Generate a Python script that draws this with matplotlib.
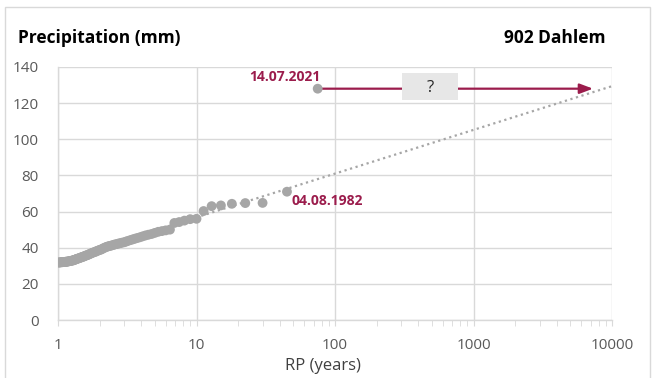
import numpy as np
import matplotlib
matplotlib.use("Agg")
import matplotlib.pyplot as plt
from matplotlib.patches import Rectangle

plt.rcParams['font.family'] = ['Open Sans', 'DejaVu Sans']

# Annual maximum daily precipitation, ranked (return period in years, value in mm)
rp_years = [45.00, 30.00, 22.50, 18.00, 15.00, 12.86, 11.25, 10.00, 9.00, 8.18,
            7.50, 6.92, 6.43, 6.00, 5.63, 5.29, 5.00, 4.74, 4.50, 4.29,
            4.09, 3.91, 3.75, 3.60, 3.46, 3.33, 3.21, 3.10, 3.00, 2.90,
            2.81, 2.73, 2.65, 2.57, 2.50, 2.43, 2.37, 2.31, 2.25, 2.20,
            2.14, 2.09, 2.05, 2.00, 1.96, 1.91, 1.88, 1.84, 1.80, 1.76,
            1.73, 1.70, 1.67, 1.64, 1.61, 1.58, 1.55, 1.53, 1.50, 1.48,
            1.45, 1.43, 1.41, 1.38, 1.36, 1.34, 1.32, 1.30, 1.29, 1.27,
            1.25, 1.23, 1.22, 1.20, 1.18, 1.17, 1.15, 1.14, 1.13, 1.11,
            1.10, 1.08, 1.07, 1.06, 1.05, 1.03, 1.02, 1.01]
precip_mm = [71.0, 64.8, 64.7, 64.3, 63.4, 63.0, 60.3, 56.0, 55.8, 55.0,
             54.2, 53.7, 50.0, 49.6, 49.2, 48.8, 48.2, 47.6, 47.2, 46.8,
             46.3, 45.8, 45.4, 45.0, 44.6, 44.2, 43.8, 43.4, 43.0, 42.8,
             42.5, 42.3, 42.0, 41.8, 41.5, 41.2, 41.0, 40.8, 40.5, 40.2,
             39.8, 39.4, 39.0, 38.8, 38.5, 38.2, 37.9, 37.6, 37.4, 37.1,
             36.8, 36.6, 36.3, 36.0, 35.8, 35.6, 35.3, 35.1, 34.9, 34.7,
             34.5, 34.3, 34.1, 33.9, 33.7, 33.5, 33.3, 33.2, 33.0, 32.9,
             32.8, 32.7, 32.6, 32.5, 32.4, 32.3, 32.3, 32.2, 32.2, 32.1,
             32.1, 32.0, 32.0, 32.0, 31.9, 31.9, 31.8, 31.8]

# 2021 event and the 1982 record
event_2021_rp = 75
event_2021_mm = 128
event_2021_label = "14.07.2021"
arrow_end_rp = 7300
record_1982_rp = 45.0
record_1982_mm = 71.0
record_1982_label = "04.08.1982"

# Logarithmic trend line: P = a + b * log10(RP)
trend_a = 32.6
trend_b = 24.2
trend_rp = [1, 10000]

x_ticks = [1, 10, 100, 1000, 10000]
x_tick_labels = ["1", "10", "100", "1000", "10000"]
y_ticks = [0, 20, 40, 60, 80, 100, 120, 140]

accent = "#9B1C4C"
marker_grey = "#A6A6A6"
grid_grey = "#D9D9D9"
text_grey = "#595959"

W, H = 656, 378
fig = plt.figure(figsize=(W / 100, H / 100), dpi=100)
ax = fig.add_axes([58 / W, 1 - 320 / H, (612 - 58) / W, (320 - 67) / H])

# outer chart frame
fig.patches.append(Rectangle((5 / W, -0.05), (650 - 5) / W, 1 - 7 / H + 0.05,
                             transform=fig.transFigure, fill=False,
                             edgecolor="#D9D9D9", linewidth=1.0, zorder=0))

ax.set_xscale("log")
ax.set_xlim(1, 10000)
ax.set_ylim(0, 140)

tx = np.logspace(np.log10(trend_rp[0]), np.log10(trend_rp[1]), 200)
ax.plot(tx, trend_a + trend_b * np.log10(tx), linestyle=(0, (1, 1.6)),
        color=marker_grey, linewidth=1.6, zorder=2)

ax.scatter(rp_years, precip_mm, s=50, color=marker_grey, edgecolors="none", zorder=3)
ax.scatter([event_2021_rp], [event_2021_mm], s=50, color=marker_grey,
           edgecolors="none", zorder=4)

# unknown return period of the 2021 event
ax.annotate("", xy=(arrow_end_rp, event_2021_mm), xytext=(event_2021_rp * 1.08, event_2021_mm),
            arrowprops=dict(arrowstyle="-|>,head_length=0.8,head_width=0.3",
                            color=accent, lw=1.6, shrinkA=0, shrinkB=0), zorder=3)
ax.add_patch(Rectangle((305, 122), 773 - 305, 14.5, facecolor="#E7E7E7",
                       edgecolor="none", zorder=5))
ax.text(485, event_2021_mm + 0.5, "?", ha="center", va="center", fontsize=12,
        color="#262626", zorder=6)

ax.text(event_2021_rp * 1.05, event_2021_mm + 2.5, event_2021_label, ha="right", va="bottom",
        fontsize=10, fontweight="bold", color=accent, zorder=6)
ax.text(record_1982_rp * 1.08, record_1982_mm - 5, record_1982_label, ha="left", va="center",
        fontsize=10, fontweight="bold", color=accent, zorder=6)

ax.set_xticks(x_ticks)
ax.set_xticklabels(x_tick_labels)
ax.set_yticks(y_ticks)
ax.grid(True, which="major", color=grid_grey, linewidth=1.0)
ax.set_axisbelow(True)
for side in ("top", "right"):
    ax.spines[side].set_visible(False)
for side in ("left", "bottom"):
    ax.spines[side].set_color(grid_grey)
    ax.spines[side].set_linewidth(1.0)
ax.tick_params(axis="x", which="both", direction="out", color=grid_grey, labelcolor=text_grey,
               labelsize=11, pad=9)
ax.tick_params(axis="x", which="major", length=4)
ax.tick_params(axis="x", which="minor", length=4)
ax.tick_params(axis="x", which="minor", labelbottom=False)
ax.tick_params(axis="y", length=0, labelcolor=text_grey, labelsize=11, pad=14)

fig.text(323 / W, 1 - 366 / H, "RP (years)", ha="center", va="center",
         fontsize=12, color="#404040")

fig.text(18 / W, 1 - 38 / H, "Precipitation (mm)", ha="left", va="center",
         fontsize=12.5, fontweight="bold", color="#000000")
fig.text(605 / W, 1 - 38 / H, "902 Dahlem", ha="right", va="center",
         fontsize=12.5, fontweight="bold", color="#000000")

fig.savefig("out.png", dpi=100)
